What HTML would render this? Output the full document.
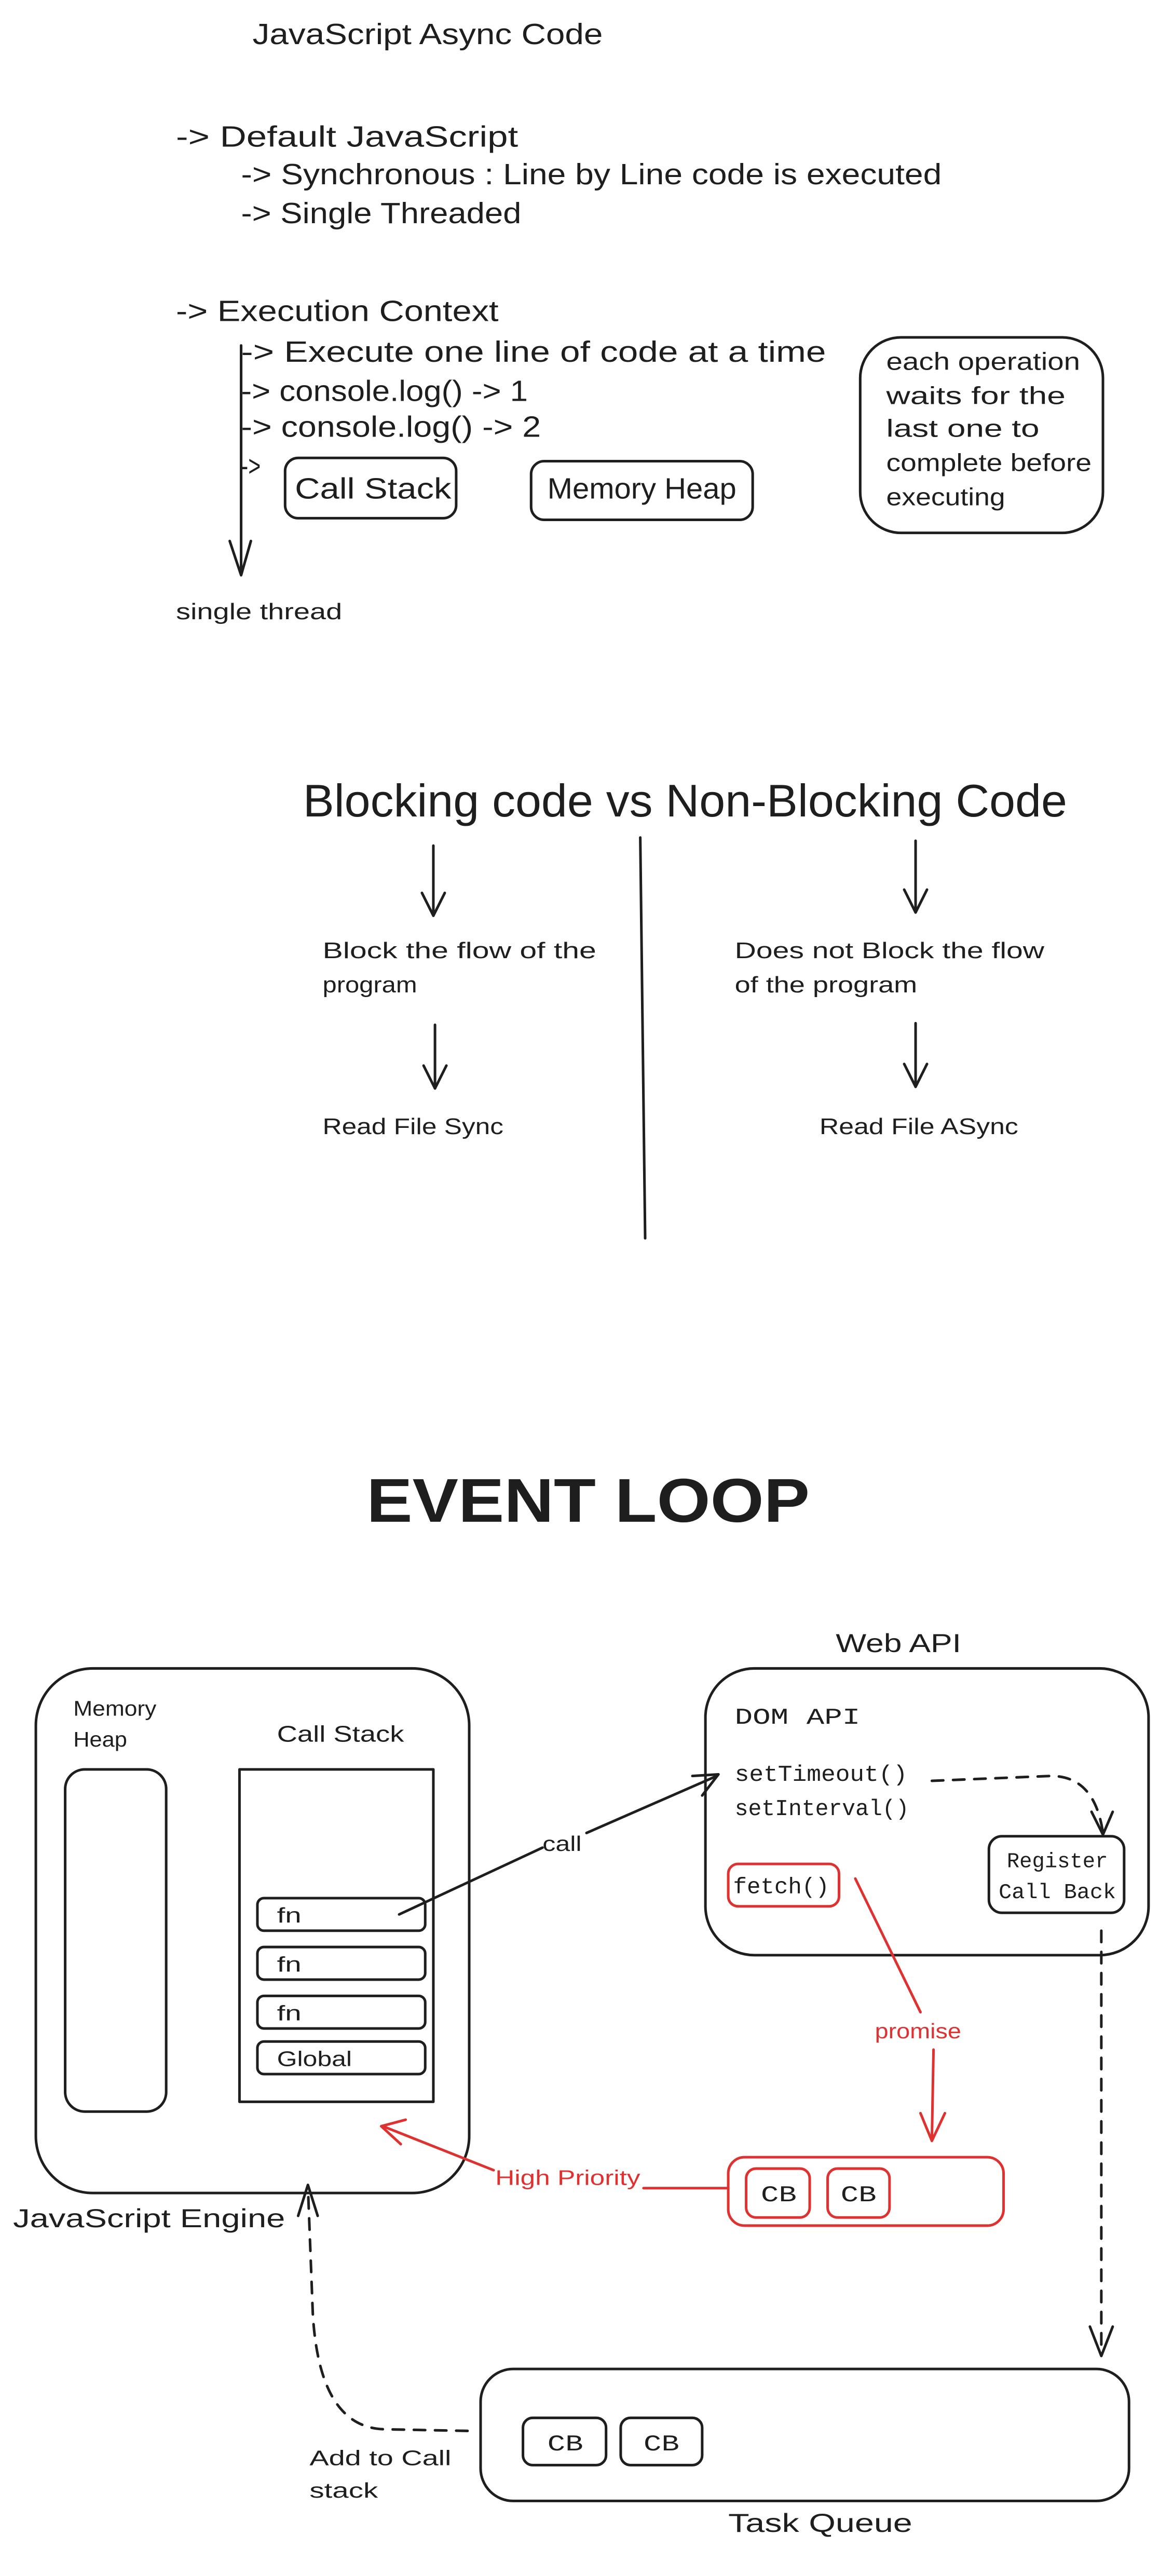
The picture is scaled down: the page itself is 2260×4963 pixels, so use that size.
<!DOCTYPE html>
<html><head><meta charset="utf-8"><style>
html,body{margin:0;padding:0;background:#fff;}
svg{display:block;}
text{font-family:"Liberation Sans",sans-serif;fill:#1e1e1e;}
.m{font-family:"Liberation Mono",monospace;}
.r{fill:#e03131;}
</style></head><body>
<svg width="2260" height="4963" viewBox="0 0 720 1581" xmlns="http://www.w3.org/2000/svg">
<g fill="none" stroke="#1e1e1e" stroke-width="1.6" stroke-linecap="round" stroke-linejoin="round">
<!-- section 1 -->
<line x1="148" y1="212" x2="148" y2="352"/>
<polyline points="141,332 148,353 154,332"/>
<rect x="175" y="281" width="105" height="37" rx="8"/>
<rect x="326" y="283" width="136" height="36" rx="8"/>
<rect x="528" y="207" width="149" height="120" rx="25"/>
<!-- section 2 -->
<line x1="393" y1="514" x2="396" y2="760"/>
<line x1="266" y1="519" x2="266" y2="562"/><polyline points="259,548 266,562 273,548"/>
<line x1="267" y1="629" x2="267" y2="668"/><polyline points="260,654 267,668 274,654"/>
<line x1="562" y1="516" x2="562" y2="560"/><polyline points="555,546 562,560 569,546"/>
<line x1="562" y1="628" x2="562" y2="667"/><polyline points="555,653 562,667 569,653"/>
<!-- section 3 -->
<rect x="22" y="1024" width="266" height="322" rx="35"/>
<rect x="40" y="1086" width="62" height="210" rx="12"/>
<rect x="147" y="1086" width="119" height="204"/>
<rect x="158" y="1165" width="103" height="20" rx="4"/>
<rect x="158" y="1195" width="103" height="20" rx="4"/>
<rect x="158" y="1225" width="103" height="20" rx="4"/>
<rect x="158" y="1253" width="103" height="20" rx="4"/>
<path d="M245,1175 L333,1134"/><path d="M360,1125 L440,1090"/>
<polyline points="425,1090 441,1089 431,1102"/>
<rect x="433" y="1024" width="272" height="176" rx="30"/>
<rect x="607" y="1127" width="83" height="47" rx="8"/>
<path d="M572,1093 L645,1090 Q672,1090 677,1125" stroke-dasharray="7 6"/>
<polyline points="670,1112 677,1126 683,1112"/>
<line x1="676" y1="1185" x2="676" y2="1445" stroke-dasharray="7 6"/>
<polyline points="669,1428 676,1446 683,1428"/>
<rect x="295" y="1454" width="398" height="81" rx="20"/>
<rect x="321" y="1484" width="51" height="29" rx="6"/>
<rect x="381" y="1484" width="50" height="29" rx="6"/>
<path d="M287,1492 L236,1491 Q196,1490 192,1420 L189,1342" stroke-dasharray="7 6"/>
<polyline points="183,1360 189,1341 195,1360"/>
</g>
<g fill="none" stroke="#e03131" stroke-width="1.6" stroke-linecap="round" stroke-linejoin="round">
<rect x="447" y="1144" width="68" height="26" rx="6"/>
<path d="M525,1153 L565,1235"/>
<path d="M573,1258 L572,1313"/>
<polyline points="565,1297 572,1314 580,1297"/>
<rect x="447" y="1324" width="169" height="42" rx="10"/>
<rect x="458" y="1331" width="39" height="30" rx="6"/>
<rect x="508" y="1331" width="38" height="30" rx="6"/>
<path d="M446,1343 L395,1343"/>
<path d="M303,1332 L235,1305"/>
<polyline points="246,1316 234,1305 249,1301"/>
</g>
<!-- text section 1 -->
<text x="155" y="27" font-size="18" textLength="215" lengthAdjust="spacingAndGlyphs">JavaScript Async Code</text>
<text x="108" y="90" font-size="18" textLength="210" lengthAdjust="spacingAndGlyphs">-&gt; Default JavaScript</text>
<text x="148" y="113" font-size="18" textLength="430" lengthAdjust="spacingAndGlyphs">-&gt; Synchronous : Line by Line code is executed</text>
<text x="148" y="137" font-size="18" textLength="172" lengthAdjust="spacingAndGlyphs">-&gt; Single Threaded</text>
<text x="108" y="197" font-size="18" textLength="198" lengthAdjust="spacingAndGlyphs">-&gt; Execution Context</text>
<text x="148" y="222" font-size="18" textLength="359" lengthAdjust="spacingAndGlyphs">-&gt; Execute one line of code at a time</text>
<text x="148" y="246" font-size="18" textLength="176" lengthAdjust="spacingAndGlyphs">-&gt; console.log() -&gt; 1</text>
<text x="148" y="268" font-size="18" textLength="184" lengthAdjust="spacingAndGlyphs">-&gt; console.log() -&gt; 2</text>
<text x="148" y="292" font-size="18" textLength="12" lengthAdjust="spacingAndGlyphs">-&gt;</text>
<text x="181" y="306" font-size="18" textLength="96" lengthAdjust="spacingAndGlyphs">Call Stack</text>
<text x="336" y="306" font-size="18" textLength="116" lengthAdjust="spacingAndGlyphs">Memory Heap</text>
<text x="544" y="227" font-size="15" textLength="119" lengthAdjust="spacingAndGlyphs">each operation</text>
<text x="544" y="248" font-size="15" textLength="110" lengthAdjust="spacingAndGlyphs">waits for the</text>
<text x="544" y="268" font-size="15" textLength="94" lengthAdjust="spacingAndGlyphs">last one to</text>
<text x="544" y="289" font-size="15" textLength="126" lengthAdjust="spacingAndGlyphs">complete before</text>
<text x="544" y="310" font-size="15" textLength="73" lengthAdjust="spacingAndGlyphs">executing</text>
<text x="108" y="380" font-size="14" textLength="102" lengthAdjust="spacingAndGlyphs">single thread</text>
<!-- section 2 -->
<text x="186" y="501" font-size="28" textLength="469" lengthAdjust="spacingAndGlyphs">Blocking code vs Non-Blocking Code</text>
<text x="198" y="588" font-size="14" textLength="168" lengthAdjust="spacingAndGlyphs">Block the flow of the</text>
<text x="198" y="609" font-size="14" textLength="58" lengthAdjust="spacingAndGlyphs">program</text>
<text x="198" y="696" font-size="14" textLength="111" lengthAdjust="spacingAndGlyphs">Read File Sync</text>
<text x="451" y="588" font-size="14" textLength="190" lengthAdjust="spacingAndGlyphs">Does not Block the flow</text>
<text x="451" y="609" font-size="14" textLength="112" lengthAdjust="spacingAndGlyphs">of the program</text>
<text x="503" y="696" font-size="14" textLength="122" lengthAdjust="spacingAndGlyphs">Read File ASync</text>
<!-- section 3 -->
<text x="225" y="934" font-size="38" font-weight="bold" textLength="272" lengthAdjust="spacingAndGlyphs">EVENT LOOP</text>
<text x="513" y="1014" font-size="16" textLength="77" lengthAdjust="spacingAndGlyphs">Web API</text>
<text x="45" y="1053" font-size="13" textLength="51" lengthAdjust="spacingAndGlyphs">Memory</text>
<text x="45" y="1072" font-size="13" textLength="33" lengthAdjust="spacingAndGlyphs">Heap</text>
<text x="170" y="1069" font-size="14" textLength="78" lengthAdjust="spacingAndGlyphs">Call Stack</text>
<text x="170" y="1180" font-size="13" textLength="15" lengthAdjust="spacingAndGlyphs">fn</text>
<text x="170" y="1210" font-size="13" textLength="15" lengthAdjust="spacingAndGlyphs">fn</text>
<text x="170" y="1240" font-size="13" textLength="15" lengthAdjust="spacingAndGlyphs">fn</text>
<text x="170" y="1268" font-size="13" textLength="46" lengthAdjust="spacingAndGlyphs">Global</text>
<text x="8" y="1367" font-size="16" textLength="167" lengthAdjust="spacingAndGlyphs">JavaScript Engine</text>
<text x="333" y="1136" font-size="13" textLength="24" lengthAdjust="spacingAndGlyphs">call</text>
<text class="m" x="451" y="1058" font-size="14" textLength="77" lengthAdjust="spacingAndGlyphs">DOM API</text>
<text class="m" x="451" y="1093" font-size="14" textLength="106" lengthAdjust="spacingAndGlyphs">setTimeout()</text>
<text class="m" x="451" y="1114" font-size="14" textLength="107" lengthAdjust="spacingAndGlyphs">setInterval()</text>
<text class="m" x="450" y="1162" font-size="14" textLength="59" lengthAdjust="spacingAndGlyphs">fetch()</text>
<text class="m" x="618" y="1146" font-size="13" textLength="62" lengthAdjust="spacingAndGlyphs">Register</text>
<text class="m" x="613" y="1165" font-size="13" textLength="72" lengthAdjust="spacingAndGlyphs">Call Back</text>
<text class="r" x="537" y="1251" font-size="13" textLength="53" lengthAdjust="spacingAndGlyphs">promise</text>
<text class="r" x="304" y="1341" font-size="13" textLength="89" lengthAdjust="spacingAndGlyphs">High Priority</text>
<text class="m" x="467" y="1351" font-size="14" textLength="22" lengthAdjust="spacingAndGlyphs">CB</text>
<text class="m" x="516" y="1351" font-size="14" textLength="22" lengthAdjust="spacingAndGlyphs">CB</text>
<text class="m" x="336" y="1504" font-size="14" textLength="22" lengthAdjust="spacingAndGlyphs">CB</text>
<text class="m" x="395" y="1504" font-size="14" textLength="22" lengthAdjust="spacingAndGlyphs">CB</text>
<text x="447" y="1554" font-size="16" textLength="113" lengthAdjust="spacingAndGlyphs">Task Queue</text>
<text x="190" y="1513" font-size="13" textLength="87" lengthAdjust="spacingAndGlyphs">Add to Call</text>
<text x="190" y="1533" font-size="13" textLength="42" lengthAdjust="spacingAndGlyphs">stack</text>
</svg>
</body></html>
